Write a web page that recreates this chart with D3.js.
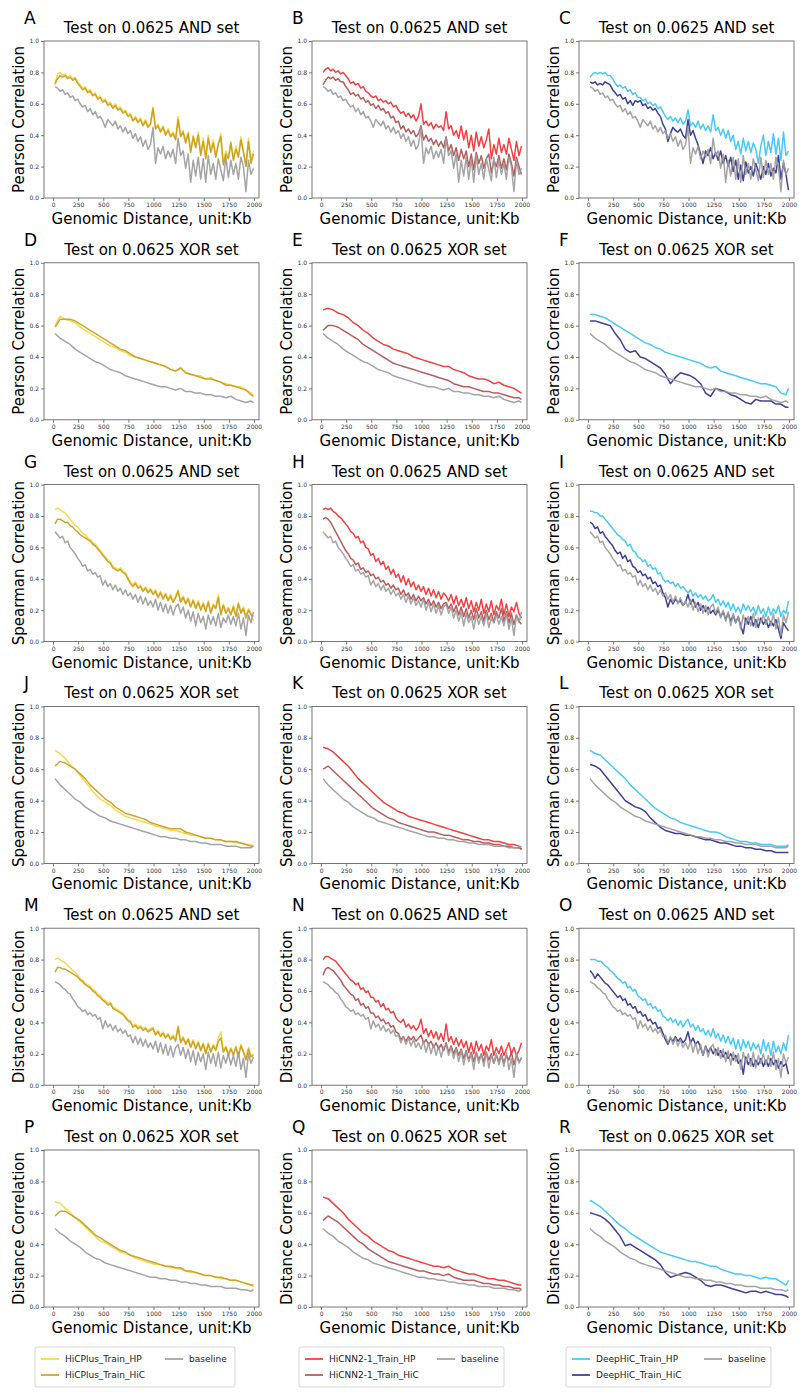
<!DOCTYPE html>
<html>
<head>
<meta charset="utf-8">
<script src="https://cdn.jsdelivr.net/npm/d3@7"></script>
<style>
  body { margin: 0; background: #fff; }
  text { font-family: "DejaVu Sans", sans-serif; }
</style>
</head>
<body>
<div id="fig"></div>
<script>
// genomic distance (Kb) of the sampled points
var distAnd = [20,45,70,95,120,145,170,195,220,245,270,295,320,345,370,395,420,445,470,495,
  520,545,570,595,620,645,670,695,720,745,770,795,820,845,870,895,920,945,970,995,
  1020,1045,1070,1095,1120,1145,1170,1195,1220,1245,1270,1295,1320,1345,1370,1395,1420,1445,1470,1495,
  1520,1545,1570,1595,1620,1645,1670,1695,1720,1745,1770,1795,1820,1845,1870,1895,1920,1945,1970,1995];
var distXor = [20,70,120,170,220,270,320,370,420,470,520,570,620,670,720,770,820,870,920,970,
  1020,1070,1120,1170,1220,1270,1320,1370,1420,1470,1520,1570,1620,1670,1720,1770,1820,1870,1920,1970,1995];

var xTicks = [0,250,500,750,1000,1250,1500,1750,2000];
var yTicks = [0,0.2,0.4,0.6,0.8,1.0];

// ---- Pearson, AND set
var pearsonAndBaseline = [0.71,0.70,0.68,0.69,0.66,0.67,0.64,0.65,0.62,0.63,
  0.60,0.58,0.59,0.55,0.57,0.53,0.55,0.51,0.52,0.49,
  0.45,0.50,0.48,0.46,0.49,0.44,0.46,0.42,0.45,0.41,
  0.43,0.38,0.41,0.36,0.39,0.33,0.37,0.31,0.34,0.45,
  0.22,0.32,0.28,0.33,0.25,0.30,0.26,0.31,0.22,0.38,
  0.27,0.30,0.19,0.28,0.10,0.24,0.14,0.26,0.12,0.25,
  0.10,0.27,0.15,0.22,0.12,0.25,0.18,0.11,0.26,0.13,
  0.24,0.15,0.22,0.12,0.26,0.20,0.04,0.24,0.15,0.19];
var pearsonAndHicplusHP = [0.72,0.79,0.80,0.78,0.79,0.77,0.78,0.76,0.77,0.74,
  0.72,0.70,0.71,0.68,0.69,0.66,0.67,0.64,0.65,0.62,
  0.63,0.60,0.61,0.58,0.60,0.57,0.58,0.55,0.56,0.53,
  0.54,0.50,0.52,0.49,0.51,0.47,0.50,0.46,0.48,0.58,
  0.45,0.47,0.43,0.46,0.41,0.44,0.40,0.42,0.38,0.52,
  0.40,0.43,0.36,0.42,0.30,0.40,0.33,0.42,0.28,0.38,
  0.26,0.40,0.30,0.37,0.27,0.35,0.41,0.22,0.30,0.26,
  0.36,0.25,0.33,0.27,0.39,0.30,0.21,0.38,0.24,0.30];
var pearsonAndHicplusHiC = [0.73,0.76,0.78,0.77,0.78,0.76,0.77,0.75,0.76,0.73,
  0.71,0.69,0.70,0.67,0.68,0.65,0.66,0.63,0.64,0.61,
  0.62,0.59,0.60,0.57,0.59,0.56,0.57,0.54,0.55,0.52,
  0.53,0.49,0.51,0.48,0.50,0.46,0.49,0.45,0.47,0.57,
  0.44,0.46,0.42,0.45,0.40,0.43,0.39,0.41,0.37,0.50,
  0.39,0.42,0.35,0.41,0.29,0.39,0.32,0.40,0.27,0.36,
  0.25,0.38,0.29,0.35,0.26,0.34,0.39,0.21,0.28,0.25,
  0.35,0.24,0.31,0.26,0.37,0.29,0.20,0.36,0.22,0.28];
var pearsonAndHicnnHP = [0.80,0.82,0.83,0.81,0.82,0.80,0.81,0.79,0.80,0.78,
  0.76,0.73,0.74,0.72,0.73,0.70,0.71,0.68,0.67,0.65,
  0.64,0.65,0.62,0.63,0.61,0.62,0.60,0.61,0.58,0.59,
  0.56,0.54,0.55,0.52,0.54,0.51,0.53,0.49,0.52,0.60,
  0.47,0.49,0.46,0.48,0.44,0.47,0.45,0.46,0.43,0.55,
  0.44,0.46,0.40,0.43,0.38,0.46,0.37,0.43,0.32,0.40,
  0.30,0.42,0.33,0.39,0.32,0.37,0.44,0.25,0.34,0.28,
  0.38,0.29,0.34,0.28,0.38,0.31,0.24,0.36,0.27,0.33];
var pearsonAndHicnnHiC = [0.72,0.75,0.77,0.76,0.77,0.75,0.76,0.74,0.74,0.71,
  0.69,0.66,0.67,0.65,0.66,0.63,0.64,0.61,0.62,0.59,
  0.60,0.57,0.59,0.56,0.57,0.54,0.55,0.51,0.52,0.48,
  0.49,0.44,0.46,0.42,0.44,0.41,0.43,0.39,0.41,0.46,
  0.37,0.40,0.36,0.38,0.34,0.37,0.33,0.36,0.32,0.39,
  0.30,0.34,0.27,0.32,0.24,0.31,0.25,0.30,0.20,0.28,
  0.18,0.29,0.22,0.27,0.19,0.25,0.28,0.16,0.24,0.20,
  0.27,0.19,0.25,0.18,0.28,0.22,0.14,0.26,0.20,0.15];
var pearsonAndDeephicHP = [0.77,0.79,0.80,0.79,0.80,0.79,0.80,0.78,0.78,0.76,
  0.73,0.71,0.72,0.70,0.71,0.68,0.69,0.66,0.67,0.64,
  0.64,0.62,0.63,0.60,0.61,0.59,0.60,0.57,0.58,0.55,
  0.52,0.50,0.52,0.49,0.51,0.48,0.51,0.47,0.49,0.56,
  0.46,0.48,0.45,0.49,0.44,0.47,0.43,0.46,0.42,0.53,
  0.43,0.45,0.40,0.44,0.38,0.43,0.36,0.40,0.31,0.36,
  0.28,0.38,0.30,0.36,0.29,0.35,0.31,0.22,0.33,0.40,
  0.27,0.36,0.29,0.41,0.28,0.38,0.24,0.42,0.27,0.30];
var pearsonAndDeephicHiC = [0.74,0.73,0.74,0.72,0.73,0.72,0.74,0.73,0.72,0.69,
  0.67,0.65,0.66,0.63,0.64,0.60,0.62,0.59,0.62,0.61,
  0.62,0.59,0.60,0.57,0.58,0.56,0.57,0.54,0.52,0.47,
  0.44,0.36,0.41,0.45,0.43,0.42,0.44,0.40,0.38,0.50,
  0.40,0.43,0.38,0.34,0.28,0.22,0.30,0.27,0.32,0.25,
  0.29,0.24,0.30,0.22,0.27,0.20,0.26,0.17,0.24,0.12,
  0.21,0.11,0.23,0.16,0.20,0.14,0.22,0.17,0.12,0.20,
  0.15,0.22,0.14,0.19,0.16,0.27,0.12,0.22,0.15,0.05];

// ---- Pearson, XOR set
var pearsonXorBaseline = [0.55,0.52,0.50,0.48,0.45,0.43,0.41,0.39,0.37,0.36,
  0.34,0.32,0.31,0.30,0.28,0.27,0.26,0.25,0.24,0.23,
  0.22,0.21,0.21,0.20,0.19,0.20,0.18,0.18,0.17,0.17,
  0.16,0.16,0.15,0.15,0.14,0.15,0.13,0.12,0.11,0.12,0.11];
var pearsonXorHicplusHP = [0.60,0.66,0.64,0.63,0.62,0.59,0.57,0.55,0.53,0.51,
  0.49,0.47,0.46,0.44,0.43,0.41,0.40,0.39,0.38,0.37,
  0.36,0.35,0.34,0.32,0.31,0.33,0.30,0.29,0.28,0.28,
  0.26,0.27,0.25,0.24,0.23,0.22,0.21,0.21,0.19,0.17,0.16];
var pearsonXorHicplusHiC = [0.59,0.64,0.64,0.64,0.63,0.61,0.59,0.57,0.55,0.53,
  0.51,0.49,0.47,0.45,0.44,0.42,0.40,0.39,0.38,0.37,
  0.36,0.35,0.34,0.32,0.31,0.33,0.30,0.29,0.28,0.27,
  0.26,0.26,0.25,0.24,0.22,0.22,0.21,0.20,0.19,0.16,0.15];
var pearsonXorHicnnHP = [0.70,0.71,0.70,0.68,0.67,0.65,0.62,0.60,0.57,0.55,
  0.52,0.50,0.48,0.47,0.45,0.44,0.43,0.42,0.40,0.39,
  0.38,0.37,0.36,0.35,0.34,0.34,0.32,0.31,0.30,0.28,
  0.27,0.26,0.26,0.25,0.23,0.24,0.22,0.21,0.20,0.18,0.17];
var pearsonXorHicnnHiC = [0.57,0.60,0.60,0.59,0.57,0.55,0.53,0.51,0.48,0.46,
  0.44,0.42,0.40,0.38,0.36,0.35,0.34,0.33,0.32,0.31,
  0.30,0.29,0.28,0.27,0.26,0.25,0.23,0.22,0.21,0.21,
  0.20,0.19,0.18,0.18,0.17,0.17,0.16,0.15,0.14,0.14,0.13];
var pearsonXorDeephicHP = [0.67,0.67,0.66,0.65,0.63,0.61,0.59,0.57,0.55,0.53,
  0.51,0.49,0.48,0.46,0.45,0.43,0.42,0.41,0.40,0.39,
  0.38,0.37,0.36,0.34,0.33,0.34,0.31,0.30,0.29,0.28,
  0.27,0.26,0.25,0.24,0.23,0.23,0.22,0.21,0.17,0.16,0.20];
var pearsonXorDeephicHiC = [0.63,0.63,0.62,0.61,0.60,0.55,0.51,0.45,0.43,0.44,
  0.40,0.39,0.37,0.35,0.33,0.29,0.23,0.27,0.30,0.29,
  0.28,0.26,0.23,0.17,0.15,0.20,0.19,0.18,0.16,0.15,
  0.13,0.11,0.10,0.13,0.12,0.12,0.12,0.10,0.10,0.08,0.08];

// ---- Spearman, AND set
var spearmanAndBaseline = [0.70,0.68,0.66,0.67,0.63,0.64,0.60,0.58,0.56,0.53,
  0.51,0.48,0.49,0.45,0.46,0.43,0.44,0.41,0.42,0.36,
  0.39,0.35,0.37,0.33,0.36,0.32,0.34,0.30,0.33,0.29,
  0.31,0.27,0.30,0.25,0.29,0.24,0.28,0.23,0.26,0.22,
  0.27,0.20,0.25,0.19,0.24,0.18,0.23,0.17,0.22,0.24,
  0.18,0.22,0.15,0.20,0.13,0.19,0.10,0.18,0.12,0.16,
  0.08,0.17,0.11,0.16,0.10,0.18,0.09,0.15,0.12,0.17,
  0.11,0.16,0.10,0.18,0.08,0.15,0.04,0.17,0.12,0.19];
var spearmanAndHicplusHP = [0.84,0.85,0.84,0.83,0.82,0.80,0.78,0.76,0.74,0.73,
  0.71,0.69,0.68,0.66,0.65,0.63,0.62,0.60,0.58,0.56,
  0.54,0.52,0.51,0.48,0.47,0.46,0.47,0.45,0.44,0.41,
  0.38,0.36,0.38,0.35,0.36,0.33,0.35,0.32,0.34,0.31,
  0.33,0.29,0.32,0.28,0.31,0.27,0.30,0.26,0.29,0.33,
  0.26,0.29,0.25,0.28,0.23,0.27,0.22,0.26,0.21,0.25,
  0.20,0.26,0.19,0.24,0.22,0.30,0.18,0.24,0.19,0.22,
  0.18,0.23,0.17,0.25,0.19,0.22,0.16,0.21,0.18,0.13];
var spearmanAndHicplusHiC = [0.75,0.78,0.78,0.77,0.76,0.76,0.74,0.73,0.71,0.70,
  0.68,0.67,0.66,0.65,0.64,0.62,0.61,0.59,0.57,0.55,
  0.53,0.51,0.50,0.47,0.46,0.45,0.46,0.44,0.43,0.40,
  0.37,0.35,0.37,0.34,0.35,0.32,0.34,0.31,0.33,0.30,
  0.32,0.28,0.31,0.27,0.30,0.26,0.29,0.25,0.28,0.32,
  0.25,0.28,0.24,0.27,0.22,0.26,0.21,0.25,0.20,0.24,
  0.19,0.25,0.18,0.23,0.21,0.28,0.17,0.23,0.18,0.21,
  0.17,0.22,0.16,0.24,0.18,0.21,0.15,0.20,0.17,0.16];
var spearmanAndHicnnHP = [0.84,0.85,0.84,0.85,0.83,0.82,0.80,0.79,0.77,0.75,
  0.73,0.70,0.69,0.66,0.67,0.63,0.64,0.60,0.59,0.55,
  0.56,0.51,0.53,0.49,0.51,0.46,0.48,0.43,0.46,0.41,
  0.43,0.38,0.42,0.36,0.40,0.35,0.38,0.33,0.36,0.32,
  0.35,0.30,0.34,0.29,0.33,0.28,0.32,0.27,0.31,0.29,
  0.26,0.30,0.24,0.29,0.23,0.27,0.22,0.28,0.21,0.26,
  0.19,0.25,0.20,0.27,0.18,0.24,0.19,0.26,0.17,0.23,
  0.20,0.27,0.17,0.24,0.16,0.22,0.19,0.25,0.18,0.15];
var spearmanAndHicnnHiC = [0.78,0.79,0.78,0.76,0.73,0.70,0.67,0.64,0.61,0.58,
  0.56,0.53,0.52,0.49,0.50,0.46,0.47,0.44,0.45,0.42,
  0.43,0.40,0.41,0.38,0.39,0.36,0.37,0.34,0.36,0.33,
  0.34,0.30,0.33,0.29,0.31,0.27,0.30,0.26,0.29,0.26,
  0.28,0.24,0.27,0.23,0.26,0.22,0.25,0.21,0.24,0.25,
  0.21,0.24,0.19,0.23,0.17,0.22,0.16,0.21,0.15,0.20,
  0.14,0.21,0.15,0.19,0.13,0.20,0.14,0.18,0.12,0.19,
  0.15,0.21,0.13,0.19,0.12,0.18,0.11,0.17,0.13,0.11];
var spearmanAndDeephicHP = [0.83,0.83,0.82,0.82,0.80,0.80,0.78,0.76,0.74,0.72,
  0.70,0.68,0.67,0.65,0.64,0.61,0.62,0.58,0.57,0.54,
  0.53,0.51,0.52,0.48,0.49,0.46,0.47,0.43,0.44,0.40,
  0.38,0.39,0.37,0.38,0.35,0.37,0.34,0.35,0.33,0.31,
  0.33,0.29,0.31,0.28,0.30,0.27,0.29,0.26,0.27,0.30,
  0.25,0.27,0.23,0.26,0.22,0.25,0.20,0.24,0.19,0.22,
  0.18,0.24,0.20,0.23,0.19,0.22,0.17,0.23,0.18,0.21,
  0.16,0.22,0.17,0.21,0.18,0.23,0.16,0.20,0.18,0.26];
var spearmanAndDeephicHiC = [0.76,0.75,0.72,0.73,0.69,0.70,0.67,0.65,0.63,0.61,
  0.58,0.56,0.57,0.53,0.55,0.51,0.52,0.48,0.47,0.44,
  0.45,0.42,0.43,0.40,0.41,0.37,0.38,0.35,0.36,0.31,
  0.28,0.22,0.27,0.24,0.27,0.25,0.26,0.23,0.25,0.30,
  0.24,0.27,0.22,0.25,0.20,0.23,0.19,0.22,0.18,0.20,
  0.17,0.20,0.16,0.19,0.14,0.18,0.13,0.17,0.12,0.16,
  0.10,0.05,0.15,0.11,0.16,0.10,0.14,0.09,0.15,0.11,
  0.14,0.09,0.13,0.10,0.14,0.08,0.02,0.12,0.09,0.07];

// ---- Spearman, XOR set
var spearmanXorBaseline = [0.54,0.50,0.47,0.44,0.41,0.39,0.36,0.34,0.32,0.30,
  0.29,0.27,0.26,0.25,0.24,0.23,0.22,0.21,0.20,0.19,
  0.18,0.17,0.17,0.16,0.16,0.15,0.15,0.14,0.14,0.13,
  0.13,0.12,0.12,0.12,0.11,0.11,0.11,0.10,0.10,0.10,0.11];
var spearmanXorHicplusHP = [0.72,0.70,0.67,0.63,0.60,0.56,0.52,0.48,0.44,0.41,
  0.39,0.37,0.34,0.32,0.30,0.29,0.28,0.27,0.26,0.25,
  0.24,0.23,0.22,0.21,0.21,0.20,0.19,0.18,0.18,0.17,
  0.16,0.16,0.15,0.15,0.14,0.14,0.13,0.13,0.12,0.12,0.11];
var spearmanXorHicplusHiC = [0.62,0.65,0.64,0.62,0.60,0.57,0.54,0.50,0.47,0.44,
  0.41,0.39,0.36,0.34,0.32,0.31,0.30,0.29,0.28,0.26,
  0.25,0.24,0.23,0.22,0.22,0.22,0.20,0.19,0.18,0.17,
  0.16,0.16,0.15,0.15,0.14,0.14,0.14,0.13,0.12,0.11,0.11];
var spearmanXorHicnnHP = [0.74,0.73,0.71,0.68,0.65,0.62,0.58,0.54,0.51,0.48,
  0.45,0.42,0.39,0.37,0.35,0.33,0.32,0.30,0.29,0.28,
  0.27,0.26,0.25,0.24,0.23,0.22,0.21,0.20,0.19,0.18,
  0.17,0.16,0.15,0.15,0.14,0.14,0.13,0.12,0.12,0.11,0.09];
var spearmanXorHicnnHiC = [0.60,0.62,0.59,0.56,0.53,0.50,0.47,0.44,0.41,0.38,
  0.35,0.33,0.31,0.29,0.28,0.26,0.25,0.24,0.23,0.22,
  0.21,0.20,0.20,0.19,0.18,0.18,0.17,0.16,0.15,0.15,
  0.14,0.14,0.13,0.13,0.12,0.12,0.11,0.11,0.10,0.10,0.09];
var spearmanXorDeephicHP = [0.72,0.70,0.69,0.66,0.63,0.60,0.57,0.54,0.50,0.47,
  0.44,0.41,0.38,0.35,0.33,0.31,0.29,0.28,0.26,0.25,
  0.24,0.23,0.22,0.21,0.20,0.20,0.19,0.17,0.16,0.15,
  0.14,0.14,0.13,0.13,0.12,0.12,0.12,0.11,0.11,0.11,0.12];
var spearmanXorDeephicHiC = [0.63,0.62,0.60,0.56,0.52,0.48,0.44,0.40,0.38,0.36,
  0.35,0.33,0.29,0.26,0.23,0.21,0.20,0.19,0.19,0.18,
  0.18,0.17,0.16,0.15,0.15,0.14,0.13,0.13,0.12,0.11,
  0.11,0.10,0.10,0.09,0.09,0.08,0.08,0.07,0.07,0.07,0.07];

// ---- Distance correlation, AND set
var distanceAndBaseline = [0.66,0.65,0.64,0.62,0.61,0.59,0.58,0.55,0.53,0.50,
  0.49,0.47,0.48,0.45,0.46,0.44,0.45,0.42,0.43,0.36,
  0.41,0.37,0.39,0.35,0.38,0.34,0.36,0.33,0.35,0.31,
  0.32,0.27,0.31,0.26,0.30,0.25,0.29,0.24,0.27,0.23,
  0.28,0.21,0.27,0.20,0.26,0.19,0.25,0.18,0.24,0.26,
  0.19,0.24,0.17,0.23,0.15,0.22,0.13,0.21,0.15,0.20,
  0.10,0.21,0.14,0.20,0.12,0.21,0.11,0.19,0.14,0.20,
  0.13,0.19,0.12,0.21,0.10,0.17,0.05,0.20,0.14,0.18];
var distanceAndHicplusHP = [0.80,0.81,0.80,0.79,0.78,0.76,0.75,0.73,0.72,0.70,
  0.68,0.67,0.65,0.64,0.63,0.61,0.60,0.58,0.57,0.55,
  0.54,0.52,0.53,0.50,0.49,0.48,0.47,0.46,0.44,0.42,
  0.41,0.38,0.39,0.37,0.38,0.36,0.37,0.35,0.36,0.37,
  0.33,0.35,0.32,0.34,0.31,0.33,0.30,0.32,0.29,0.38,
  0.28,0.31,0.27,0.30,0.25,0.29,0.24,0.28,0.23,0.27,
  0.21,0.27,0.22,0.26,0.23,0.30,0.34,0.22,0.25,0.20,
  0.24,0.20,0.25,0.19,0.26,0.22,0.17,0.24,0.19,0.20];
var distanceAndHicplusHiC = [0.72,0.75,0.75,0.74,0.74,0.73,0.72,0.71,0.70,0.69,
  0.67,0.66,0.64,0.63,0.62,0.60,0.59,0.57,0.56,0.54,
  0.53,0.51,0.52,0.49,0.48,0.47,0.46,0.45,0.43,0.41,
  0.40,0.37,0.38,0.36,0.37,0.35,0.36,0.34,0.35,0.36,
  0.32,0.34,0.31,0.33,0.30,0.32,0.29,0.31,0.28,0.37,
  0.27,0.30,0.26,0.29,0.24,0.28,0.23,0.27,0.22,0.26,
  0.20,0.26,0.21,0.25,0.22,0.28,0.30,0.21,0.24,0.19,
  0.23,0.19,0.24,0.18,0.25,0.21,0.16,0.23,0.18,0.19];
var distanceAndHicnnHP = [0.80,0.82,0.82,0.81,0.80,0.79,0.77,0.75,0.73,0.71,
  0.69,0.67,0.66,0.64,0.65,0.61,0.62,0.59,0.60,0.56,
  0.56,0.53,0.54,0.50,0.52,0.48,0.49,0.46,0.47,0.43,
  0.41,0.40,0.42,0.37,0.39,0.36,0.38,0.35,0.37,0.42,
  0.33,0.36,0.31,0.35,0.30,0.34,0.29,0.33,0.28,0.39,
  0.28,0.31,0.26,0.30,0.25,0.29,0.24,0.28,0.21,0.27,
  0.20,0.28,0.22,0.26,0.19,0.25,0.22,0.29,0.19,0.24,
  0.20,0.25,0.19,0.23,0.27,0.20,0.24,0.19,0.22,0.27];
var distanceAndHicnnHiC = [0.70,0.74,0.75,0.74,0.73,0.71,0.69,0.67,0.64,0.62,
  0.60,0.58,0.57,0.54,0.55,0.51,0.52,0.49,0.50,0.46,
  0.46,0.43,0.44,0.41,0.42,0.39,0.40,0.37,0.38,0.34,
  0.33,0.29,0.31,0.28,0.31,0.29,0.31,0.28,0.30,0.32,
  0.27,0.29,0.26,0.28,0.24,0.27,0.23,0.26,0.22,0.27,
  0.21,0.25,0.20,0.24,0.19,0.23,0.17,0.22,0.16,0.21,
  0.15,0.21,0.16,0.20,0.15,0.21,0.16,0.20,0.14,0.19,
  0.15,0.20,0.14,0.19,0.16,0.21,0.13,0.19,0.15,0.17];
var distanceAndDeephicHP = [0.80,0.80,0.80,0.79,0.79,0.78,0.76,0.75,0.73,0.72,
  0.70,0.68,0.67,0.65,0.66,0.62,0.63,0.60,0.61,0.57,
  0.56,0.54,0.55,0.51,0.52,0.49,0.50,0.47,0.48,0.44,
  0.43,0.41,0.43,0.40,0.42,0.38,0.41,0.37,0.40,0.42,
  0.37,0.39,0.35,0.38,0.34,0.36,0.32,0.35,0.31,0.36,
  0.30,0.33,0.28,0.32,0.27,0.31,0.26,0.30,0.23,0.29,
  0.22,0.29,0.24,0.28,0.22,0.27,0.23,0.26,0.20,0.29,
  0.22,0.27,0.19,0.28,0.21,0.25,0.20,0.27,0.22,0.32];
var distanceAndDeephicHiC = [0.73,0.71,0.68,0.71,0.69,0.67,0.65,0.64,0.62,0.60,
  0.58,0.56,0.57,0.54,0.55,0.51,0.52,0.49,0.50,0.46,
  0.47,0.44,0.45,0.41,0.42,0.39,0.40,0.36,0.37,0.33,
  0.29,0.26,0.30,0.28,0.31,0.28,0.30,0.27,0.29,0.34,
  0.27,0.30,0.26,0.28,0.24,0.19,0.25,0.21,0.24,0.20,
  0.23,0.19,0.22,0.18,0.21,0.17,0.20,0.16,0.19,0.14,
  0.16,0.07,0.18,0.13,0.17,0.12,0.16,0.13,0.17,0.12,
  0.16,0.12,0.17,0.13,0.16,0.11,0.15,0.12,0.14,0.07];

// ---- Distance correlation, XOR set
var distanceXorBaseline = [0.50,0.47,0.45,0.42,0.40,0.38,0.35,0.33,0.31,0.30,
  0.28,0.27,0.26,0.25,0.24,0.23,0.22,0.21,0.20,0.19,
  0.19,0.18,0.18,0.17,0.17,0.16,0.16,0.15,0.15,0.14,
  0.14,0.13,0.13,0.13,0.12,0.12,0.12,0.11,0.11,0.10,0.11];
var distanceXorHicplusHP = [0.67,0.66,0.63,0.60,0.57,0.54,0.51,0.48,0.45,0.42,
  0.41,0.39,0.37,0.35,0.34,0.33,0.31,0.30,0.29,0.28,
  0.27,0.27,0.26,0.25,0.25,0.24,0.23,0.22,0.22,0.21,
  0.20,0.20,0.19,0.18,0.18,0.17,0.17,0.16,0.15,0.14,0.13];
var distanceXorHicplusHiC = [0.58,0.61,0.61,0.59,0.57,0.55,0.52,0.49,0.46,0.44,
  0.42,0.40,0.38,0.36,0.35,0.33,0.32,0.31,0.30,0.29,
  0.28,0.27,0.26,0.26,0.25,0.25,0.23,0.23,0.22,0.21,
  0.20,0.20,0.19,0.19,0.18,0.17,0.17,0.16,0.15,0.14,0.14];
var distanceXorHicnnHP = [0.70,0.69,0.66,0.63,0.60,0.56,0.53,0.50,0.47,0.45,
  0.42,0.40,0.38,0.36,0.35,0.33,0.32,0.31,0.30,0.29,
  0.28,0.27,0.26,0.26,0.25,0.26,0.24,0.23,0.22,0.21,
  0.21,0.20,0.19,0.18,0.18,0.17,0.17,0.16,0.15,0.14,0.14];
var distanceXorHicnnHiC = [0.55,0.58,0.56,0.54,0.51,0.48,0.45,0.42,0.40,0.37,
  0.35,0.33,0.31,0.29,0.28,0.27,0.26,0.25,0.24,0.23,
  0.23,0.22,0.21,0.21,0.20,0.21,0.19,0.18,0.17,0.17,
  0.17,0.16,0.15,0.15,0.14,0.14,0.13,0.13,0.12,0.12,0.11];
var distanceXorDeephicHP = [0.68,0.66,0.64,0.61,0.58,0.55,0.52,0.50,0.47,0.45,
  0.43,0.41,0.39,0.37,0.35,0.34,0.33,0.32,0.31,0.30,
  0.29,0.29,0.28,0.27,0.26,0.26,0.24,0.23,0.22,0.21,
  0.21,0.20,0.20,0.19,0.18,0.19,0.18,0.18,0.16,0.14,0.17];
var distanceXorDeephicHiC = [0.60,0.59,0.58,0.56,0.53,0.49,0.45,0.39,0.40,0.38,
  0.36,0.34,0.32,0.30,0.27,0.22,0.19,0.20,0.21,0.22,
  0.21,0.19,0.17,0.14,0.13,0.14,0.14,0.13,0.12,0.11,
  0.10,0.09,0.10,0.10,0.09,0.10,0.09,0.08,0.08,0.07,0.06];

// model names and colours (HP, HiC)
var models = ["HiCPlus", "HiCNN2-1", "DeepHiC"];
var hpColors = ["#f5d63a", "#ee2c2c", "#34c4f4"];
var hicColors = ["#c99a1e", "#b04a4a", "#2b2b8c"];
var baseColor = "#9a9a9a";

var rows = [
  {metric: "Pearson Correlation", set: "AND", dist: distAnd, base: pearsonAndBaseline,
   hp: [pearsonAndHicplusHP, pearsonAndHicnnHP, pearsonAndDeephicHP],
   hic: [pearsonAndHicplusHiC, pearsonAndHicnnHiC, pearsonAndDeephicHiC]},
  {metric: "Pearson Correlation", set: "XOR", dist: distXor, base: pearsonXorBaseline,
   hp: [pearsonXorHicplusHP, pearsonXorHicnnHP, pearsonXorDeephicHP],
   hic: [pearsonXorHicplusHiC, pearsonXorHicnnHiC, pearsonXorDeephicHiC]},
  {metric: "Spearman Correlation", set: "AND", dist: distAnd, base: spearmanAndBaseline,
   hp: [spearmanAndHicplusHP, spearmanAndHicnnHP, spearmanAndDeephicHP],
   hic: [spearmanAndHicplusHiC, spearmanAndHicnnHiC, spearmanAndDeephicHiC]},
  {metric: "Spearman Correlation", set: "XOR", dist: distXor, base: spearmanXorBaseline,
   hp: [spearmanXorHicplusHP, spearmanXorHicnnHP, spearmanXorDeephicHP],
   hic: [spearmanXorHicplusHiC, spearmanXorHicnnHiC, spearmanXorDeephicHiC]},
  {metric: "Distance Correlation", set: "AND", dist: distAnd, base: distanceAndBaseline,
   hp: [distanceAndHicplusHP, distanceAndHicnnHP, distanceAndDeephicHP],
   hic: [distanceAndHicplusHiC, distanceAndHicnnHiC, distanceAndDeephicHiC]},
  {metric: "Distance Correlation", set: "XOR", dist: distXor, base: distanceXorBaseline,
   hp: [distanceXorHicplusHP, distanceXorHicnnHP, distanceXorDeephicHP],
   hic: [distanceXorHicplusHiC, distanceXorHicnnHiC, distanceXorDeephicHiC]}
];
var letters = "ABCDEFGHIJKLMNOPQR".split("");

// layout
var W = 799, H = 1395;
var colLeft = [44, 312, 579],
    plotW = 215, plotH = 157,
    rowTop = 41, rowStep = 221.8;

var svg = d3.select("#fig").append("svg")
    .attr("width", W)
    .attr("height", H);

var x = d3.scaleLinear().domain([-90, 2050]).range([0, plotW]);
var y = d3.scaleLinear().domain([0, 1]).range([plotH, 0]);

rows.forEach(function(row, r) {
  for (var c = 0; c < 3; c++) {
    var g = svg.append("g")
        .attr("transform", "translate(" + colLeft[c] + "," + (rowTop + r * rowStep) + ")");

    // axes
    var xa = g.append("g")
        .attr("transform", "translate(0," + plotH + ")")
        .call(d3.axisBottom(x).tickValues(xTicks).tickFormat(d3.format("d")).tickSize(3).tickPadding(2));
    var ya = g.append("g")
        .call(d3.axisLeft(y).tickValues(yTicks).tickFormat(d3.format(".1f")).tickSize(3).tickPadding(2));
    [xa, ya].forEach(function(a) {
      a.select(".domain").remove();
      a.selectAll("line").attr("stroke", "#444").attr("stroke-width", 0.7);
      a.selectAll("text").attr("fill", "#333").style("font-size", "6px");
    });

    // lines: HP, HiC, baseline
    var series = [
      {vals: row.hp[c], color: hpColors[c]},
      {vals: row.hic[c], color: hicColors[c]},
      {vals: row.base, color: baseColor}
    ];
    series.forEach(function(s) {
      var line = d3.line()
          .x(function(d, i) { return x(row.dist[i]); })
          .y(function(d) { return y(d); });
      g.append("path")
          .datum(s.vals)
          .attr("d", line)
          .attr("fill", "none")
          .attr("stroke", s.color)
          .attr("stroke-width", 1.5)
          .attr("stroke-linejoin", "round")
          .attr("opacity", 0.9);
    });

    // frame
    g.append("rect")
        .attr("width", plotW)
        .attr("height", plotH)
        .attr("fill", "none")
        .attr("stroke", "#555")
        .attr("stroke-width", 0.8);

    // title, letter, labels
    g.append("text")
        .attr("x", plotW / 2)
        .attr("y", -8)
        .attr("text-anchor", "middle")
        .style("font-size", "15px")
        .text("Test on 0.0625 " + row.set + " set");
    g.append("text")
        .attr("x", -20)
        .attr("y", -17)
        .style("font-size", "17px")
        .text(letters[r * 3 + c]);
    g.append("text")
        .attr("x", plotW / 2)
        .attr("y", plotH + 26)
        .attr("text-anchor", "middle")
        .style("font-size", "15px")
        .text("Genomic Distance, unit:Kb");
    g.append("text")
        .attr("transform", "translate(-20," + (plotH / 2) + ")rotate(-90)")
        .attr("text-anchor", "middle")
        .style("font-size", "15px")
        .text(row.metric);
  }
});

// legends under each column
var legLeft = [35, 299, 566], legW = [200, 205, 205], legCol2 = [130, 138, 138];
var legTop = 1347, legH = 40;
for (var c = 0; c < 3; c++) {
  var lg = svg.append("g").attr("transform", "translate(" + legLeft[c] + "," + legTop + ")");
  lg.append("rect")
      .attr("width", legW[c]).attr("height", legH)
      .attr("rx", 2)
      .attr("fill", "#fff").attr("stroke", "#ccc").attr("stroke-width", 0.8);
  var entries = [
    {label: models[c] + "_Train_HP", color: hpColors[c], ex: 6, ey: 12},
    {label: models[c] + "_Train_HiC", color: hicColors[c], ex: 6, ey: 28},
    {label: "baseline", color: baseColor, ex: legCol2[c], ey: 12}
  ];
  entries.forEach(function(e) {
    lg.append("line")
        .attr("x1", e.ex).attr("x2", e.ex + 18)
        .attr("y1", e.ey).attr("y2", e.ey)
        .attr("stroke", e.color).attr("stroke-width", 2).attr("opacity", 0.8);
    lg.append("text")
        .attr("x", e.ex + 24).attr("y", e.ey + 3)
        .style("font-size", "9px")
        .attr("fill", "#222")
        .text(e.label);
  });
}
</script>
</body>
</html>
